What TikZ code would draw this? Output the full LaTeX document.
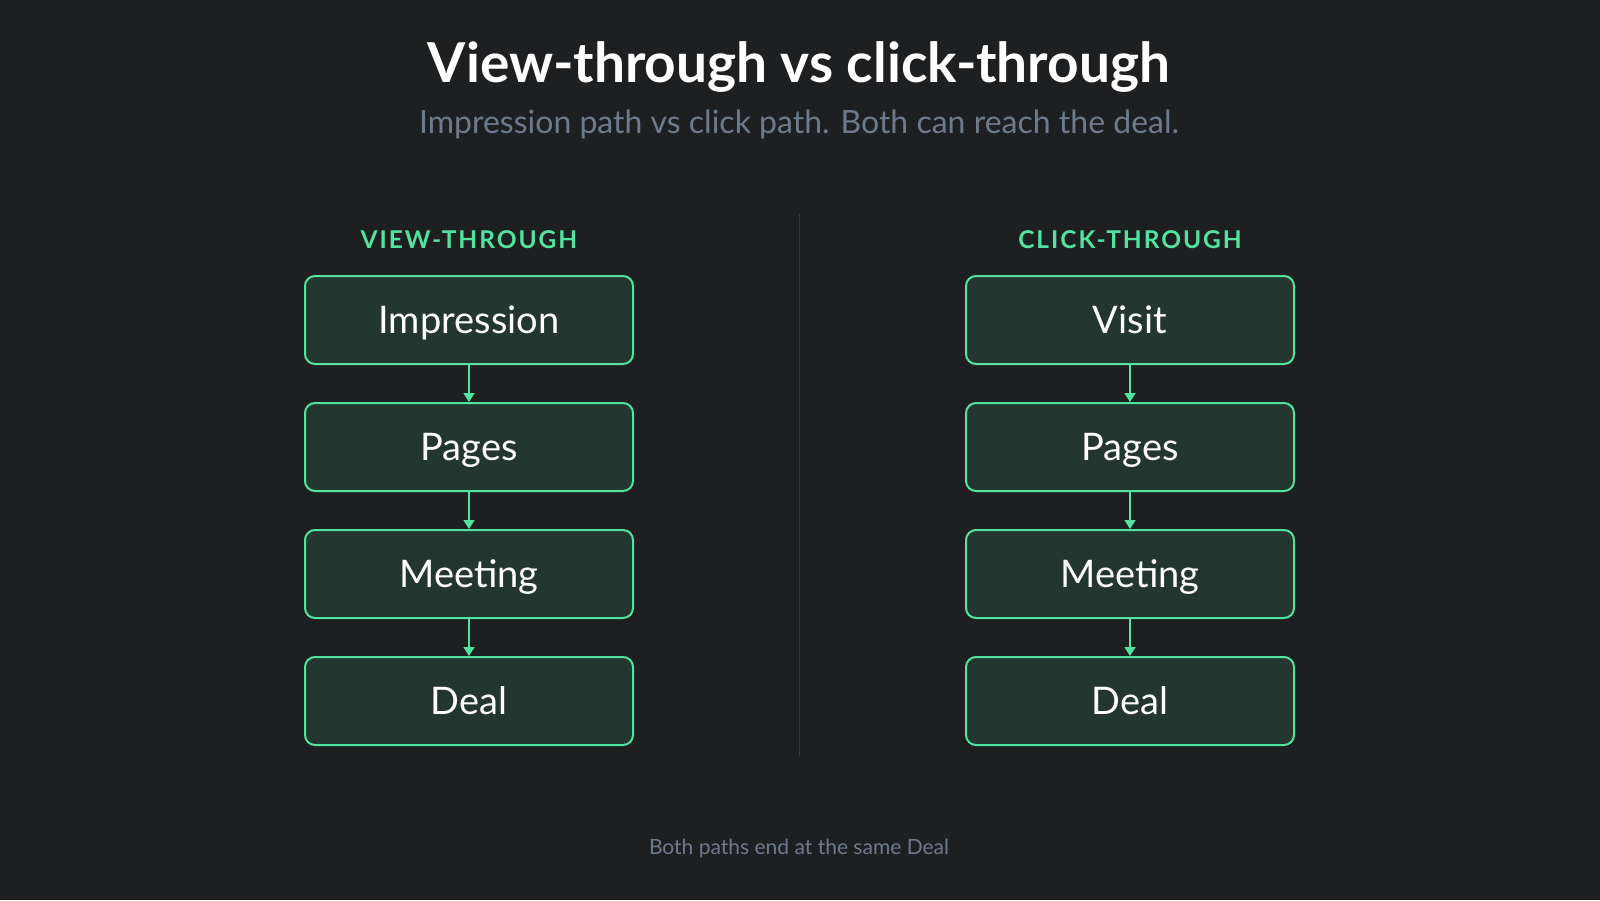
\documentclass[tikz,border=0pt]{standalone}
\usepackage{fontspec}
\setmainfont{Lato}
\usetikzlibrary{arrows.meta}
\definecolor{bg}{HTML}{1E1F21}
\definecolor{boxfill}{HTML}{243630}
\definecolor{accent}{HTML}{52E3A1}
\definecolor{subgray}{HTML}{6E7B8B}
\definecolor{divider}{HTML}{37393C}
\tikzset{
  stepbox/.style={draw=accent, line width=2pt, fill=boxfill, rounded corners=10pt,
    minimum width=328pt, minimum height=88pt, inner sep=0pt, text=white,
    text height=27pt, text depth=0pt,
    font=\fontsize{38}{44}\selectfont},
  flow/.style={draw=accent, line width=1.6pt, -{Triangle[width=11pt,length=9pt]}},
  colhead/.style={anchor=base, text=accent, font=\fontsize{24.5}{28}\selectfont\bfseries\addfontfeature{LetterSpace=8}},
}
\begin{document}
\begin{tikzpicture}[x=1pt,y=-1pt]
\fill[bg] (0,0) rectangle (1600,900);
\useasboundingbox (0,0) rectangle (1600,900);
\node[anchor=base, text=white, font=\fontsize{55}{60}\selectfont\bfseries] (title) at (799,82) {View-through vs click-through};
\node[anchor=base, text=subgray, font=\fontsize{32}{38}\selectfont] (subtitle) at (799,133) {Impression path vs click path. Both can reach the deal.};
\coordinate (dtop) at (799,214);
\coordinate (dbot) at (799,756);
\draw[divider, line width=1pt] (dtop) -- (dbot);
\node[colhead] (lh) at (469,248) {VIEW-THROUGH};
\node[colhead] (rh) at (1130,248) {CLICK-THROUGH};
\node[stepbox] (l1) at (469,320) {Impression};
\node[stepbox] (l2) at (469,447) {Pages};
\node[stepbox] (l3) at (469,574) {Meeting};
\node[stepbox] (l4) at (469,701) {Deal};
\node[stepbox] (r1) at (1130,320) {Visit};
\node[stepbox] (r2) at (1130,447) {Pages};
\node[stepbox] (r3) at (1130,574) {Meeting};
\node[stepbox] (r4) at (1130,701) {Deal};
\draw[flow] (l1) -- (l2);
\draw[flow] (l2) -- (l3);
\draw[flow] (l3) -- (l4);
\draw[flow] (r1) -- (r2);
\draw[flow] (r2) -- (r3);
\draw[flow] (r3) -- (r4);
\node[anchor=base, text=subgray, font=\fontsize{21}{25}\selectfont] (foot) at (799,854) {Both paths end at the same Deal};
\end{tikzpicture}
\end{document}
